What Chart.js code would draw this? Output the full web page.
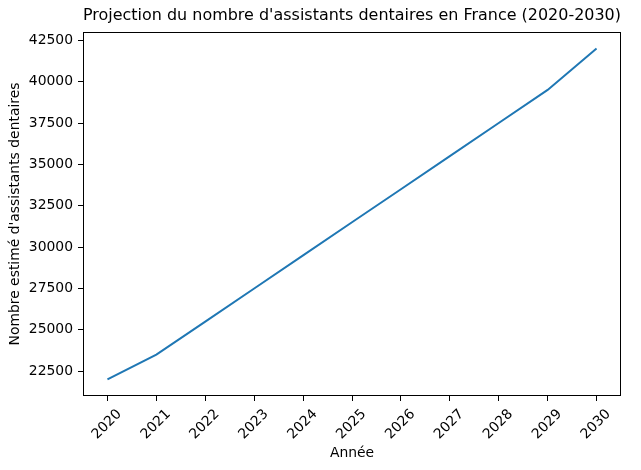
<!DOCTYPE html>
<html>
<head>
<meta charset="utf-8">
<script src="https://cdn.jsdelivr.net/npm/chart.js@4"></script>
<style>
body { margin: 0; background: #fff; }
</style>
</head>
<body>
<canvas id="myChart" width="641" height="470"></canvas>
<script>
var years = ["2020", "2021", "2022", "2023", "2024", "2025", "2026", "2027", "2028", "2029", "2030"];
var assistants = [22000, 23500, 25500, 27500, 29500, 31500, 33500, 35500, 37500, 39500, 42000];
var yTicks = [22500, 25000, 27500, 30000, 32500, 35000, 37500, 40000, 42500];

Chart.defaults.font.family = "DejaVu Sans";
Chart.defaults.font.size = 13.9;
Chart.defaults.color = "#000";

// black box round the plot, like the matplotlib spines
var frame = {
  id: "frame",
  afterDraw: function(chart) {
    var a = chart.chartArea;
    var ctx = chart.ctx;
    ctx.save();
    ctx.strokeStyle = "#000";
    ctx.lineWidth = 1;
    ctx.strokeRect(Math.round(a.left) + 0.5, Math.round(a.top) + 0.5,
      Math.round(a.right - a.left) - 1, Math.round(a.bottom - a.top) - 1);
    ctx.restore();
  }
};

new Chart("myChart", {
  type: "line",
  data: {
    labels: years,
    datasets: [{
      data: assistants,
      borderColor: "#1f77b4",
      borderWidth: 2,
      pointRadius: 0,
      tension: 0,
      fill: false
    }]
  },
  options: {
    responsive: false,
    animation: false,
    devicePixelRatio: 1,
    layout: { padding: { left: 0, right: 20, top: 0, bottom: 0 } },
    plugins: {
      legend: { display: false },
      tooltip: { enabled: false },
      title: {
        display: true,
        text: "Projection du nombre d'assistants dentaires en France (2020-2030)",
        fullSize: false,
        font: { size: 16.7, weight: "normal" },
        padding: { top: 6, bottom: 6 }
      }
    },
    scales: {
      x: {
        type: "category",
        offset: true,
        border: { display: false },
        grid: { drawOnChartArea: false, drawTicks: true, tickLength: 5, color: "#000" },
        ticks: { maxRotation: 45, minRotation: 45, padding: 5, labelOffset: 12, autoSkip: false },
        title: { display: true, text: "Année", padding: { top: 0, bottom: 8 } },
        afterFit: function(s) { s.height = 74; }
      },
      y: {
        min: 21000,
        max: 43000,
        border: { display: false },
        grid: { drawOnChartArea: false, drawTicks: true, tickLength: 5, color: "#000" },
        ticks: { padding: 5, callback: function(v) { return String(v); } },
        afterBuildTicks: function(s) { s.ticks = yTicks.map(function(v) { return { value: v }; }); },
        title: { display: true, text: "Nombre estimé d'assistants dentaires", padding: { top: 7, bottom: 0 } },
        afterFit: function(s) { s.width = 83; }
      }
    }
  },
  plugins: [frame]
});
</script>
</body>
</html>
